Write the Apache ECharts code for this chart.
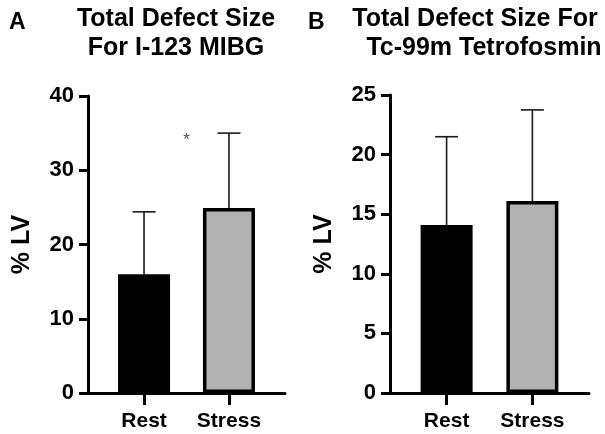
<!DOCTYPE html>
<html>
<head>
<meta charset="utf-8">
<script src="https://cdn.jsdelivr.net/npm/echarts@6/dist/echarts.min.js"></script>
<style>html,body{margin:0;padding:0;background:#fff}#c{width:605px;height:434px}</style>
</head>
<body>
<div id="c"></div>
<script>
const categories = ['Rest', 'Stress'];
const meanA = [16.0, 24.9];
const upperA = [24.4, 35.0];
const meanB = [14.1, 16.1];
const upperB = [21.5, 23.75];
const yTicksA = [0, 10, 20, 30, 40];
const yTicksB = [0, 5, 10, 15, 20, 25];
const fills = ['#000000', '#b2b2b2'];
const sigMarkA = [[0.5, 34, '*']];

const FONT = '"Liberation Sans", Arial, Helvetica, sans-serif';
const chart = echarts.init(document.getElementById('c'));

function xAxis(gi) {
  return {
    type: 'value', gridIndex: gi, min: -0.66, max: 1.66,
    axisLine: { show: true, onZero: false, lineStyle: { color: '#000', width: 3 } },
    axisTick: { show: true, customValues: [0, 1], length: 12, inside: false, lineStyle: { color: '#000', width: 3 } },
    axisLabel: { customValues: [0, 1], formatter: v => categories[Math.round(v)] || '', margin: 18,
      color: '#000', fontFamily: FONT, fontWeight: 'bold', fontSize: 21 },
    splitLine: { show: false }
  };
}
function yAxis(gi, ticks) {
  return {
    type: 'value', gridIndex: gi, min: ticks[0], max: ticks[ticks.length - 1],
    interval: ticks[1] - ticks[0],
    name: '% LV', nameLocation: 'middle', nameRotate: 90, nameGap: 53,
    nameTextStyle: { color: '#000', fontFamily: FONT, fontWeight: 'bold', fontSize: 25 },
    axisLine: { show: true, onZero: false, lineStyle: { color: '#000', width: 3 } },
    axisTick: { show: true, length: 9, lineStyle: { color: '#000', width: 3 } },
    axisLabel: { margin: 14, color: '#000', fontFamily: FONT, fontWeight: 'bold', fontSize: 22 },
    splitLine: { show: false }
  };
}
function barSeries(gi, means) {
  return {
    type: 'bar', xAxisIndex: gi, yAxisIndex: gi, barWidth: 52, z: 3,
    data: means.map((m, i) => ({ value: [i, m], itemStyle: { color: fills[i], borderColor: '#000', borderWidth: 3.5 } }))
  };
}
function errSeries(gi, means, uppers) {
  return {
    type: 'custom', xAxisIndex: gi, yAxisIndex: gi, z: 2,
    data: means.map((m, i) => [i, m, uppers[i]]),
    renderItem: (params, api) => {
      const p0 = api.coord([api.value(0), api.value(1)]);
      const p1 = api.coord([api.value(0), api.value(2)]);
      const half = 11.5;
      const st = { stroke: '#1a1a1a', lineWidth: 1.6 };
      return { type: 'group', children: [
        { type: 'line', shape: { x1: p0[0], y1: p0[1], x2: p1[0], y2: p1[1] }, style: st },
        { type: 'line', shape: { x1: p1[0] - half, y1: p1[1], x2: p1[0] + half, y2: p1[1] }, style: st }
      ]};
    }
  };
}

const titleStyle = { fill: '#000', font: 'bold 25px ' + FONT, textAlign: 'center', textVerticalAlign: 'middle' };
chart.setOption({
  animation: false,
  grid: [
    { left: 88, top: 96, width: 197, height: 297 },
    { left: 390, top: 95, width: 199, height: 298 }
  ],
  xAxis: [xAxis(0), xAxis(1)],
  yAxis: [yAxis(0, yTicksA), yAxis(1, yTicksB)],
  series: [
    barSeries(0, meanA), errSeries(0, meanA, upperA),
    barSeries(1, meanB), errSeries(1, meanB, upperB),
    {
      type: 'scatter', xAxisIndex: 0, yAxisIndex: 0, symbolSize: 0,
      data: sigMarkA.map(d => [d[0], d[1]]),
      label: { show: true, position: 'inside', formatter: p => sigMarkA[p.dataIndex][2],
        color: '#222', fontFamily: FONT, fontSize: 17 }
    }
  ],
  graphic: [
    { type: 'text', left: 9, top: 11, style: { text: 'A', fill: '#000', font: 'bold 23px ' + FONT } },
    { type: 'text', left: 308, top: 11, style: { text: 'B', fill: '#000', font: 'bold 23px ' + FONT } },
    { type: 'text', x: 176, y: 19, style: Object.assign({ text: 'Total Defect Size' }, titleStyle) },
    { type: 'text', x: 176, y: 48, style: Object.assign({ text: 'For I-123 MIBG' }, titleStyle) },
    { type: 'text', x: 475, y: 19, style: Object.assign({ text: 'Total Defect Size For' }, titleStyle) },
    { type: 'text', x: 484, y: 48, style: Object.assign({ text: 'Tc-99m Tetrofosmin' }, titleStyle) }
  ]
});
</script>
</body>
</html>
